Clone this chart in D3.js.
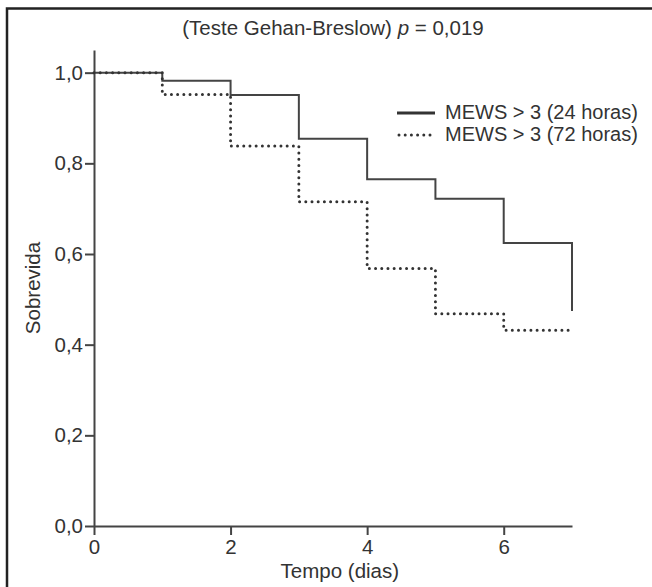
<!DOCTYPE html>
<html>
<head>
<meta charset="utf-8">
<script src="https://cdn.jsdelivr.net/npm/d3@7"></script>
<style>
  body { margin: 0; background: #fff; }
  text { font-family: "Liberation Sans", Arial, Helvetica, sans-serif; fill: #333; }
</style>
</head>
<body>
<div id="chart"></div>
<script>
// survival curves
var tempo = [0, 1, 2, 3, 4, 5, 6, 7];
var mews24 = [1.0, 0.982, 0.951, 0.854, 0.765, 0.722, 0.624, 0.474];
var mews72 = [1.0, 0.952, 0.838, 0.715, 0.568, 0.468, 0.432, 0.432];
var seriesNames = ["MEWS > 3 (24 horas)", "MEWS > 3 (72 horas)"];
var yTicks = [0, 0.2, 0.4, 0.6, 0.8, 1.0];
var xTicks = [0, 2, 4, 6];

var W = 652, H = 587;
var margin = {top: 50, right: 80, bottom: 61, left: 94},
    width = 572 - margin.left,
    height = 526 - margin.top;

var svg = d3.select("#chart")
  .append("svg")
    .attr("width", W)
    .attr("height", H);

// frame (only top and left edges fall inside the picture)
svg.append("rect")
  .attr("x", 7).attr("y", 8.5)
  .attr("width", 800).attr("height", 800)
  .attr("fill", "none")
  .attr("stroke", "#222")
  .attr("stroke-width", 2.5);

var g = svg.append("g")
  .attr("transform", "translate(" + margin.left + "," + margin.top + ")");

var x = d3.scaleLinear().domain([0, 7]).range([0, width]);
var y = d3.scaleLinear().domain([0, 1.05]).range([height, 0]);

var comma = d3.formatLocale({decimal: ",", thousands: ".", grouping: [3], currency: ["", ""]}).format(".1f");

// axes
var yAxis = g.append("g")
  .call(d3.axisLeft(y).tickValues(yTicks).tickFormat(comma).tickSize(9).tickSizeOuter(0).tickPadding(2));
var xAxis = g.append("g")
  .attr("transform", "translate(0," + height + ")")
  .call(d3.axisBottom(x).tickValues(xTicks).tickFormat(d3.format("d")).tickSize(9).tickSizeOuter(0).tickPadding(4));

[xAxis, yAxis].forEach(function(a) {
  a.selectAll("path, line").attr("stroke", "#444").attr("stroke-width", 2);
  a.selectAll("text").style("font-size", "20.5px").attr("fill", "#333");
});

// curves
var line = d3.line()
  .curve(d3.curveStepAfter)
  .x(function(d) { return x(d[0]); })
  .y(function(d) { return y(d[1]); });

g.append("path")
  .datum(d3.zip(tempo, mews24))
  .attr("d", line)
  .attr("fill", "none")
  .attr("stroke", "#444")
  .attr("stroke-width", 2);

g.append("path")
  .datum(d3.zip(tempo, mews72))
  .attr("d", line)
  .attr("fill", "none")
  .attr("stroke", "#333")
  .attr("stroke-width", 3)
  .attr("stroke-linecap", "round")
  .attr("stroke-dasharray", "0 6.2");

// title
var title = svg.append("text")
  .attr("x", margin.left + width / 2)
  .attr("y", 35)
  .attr("text-anchor", "middle")
  .style("font-size", "20.5px");
title.append("tspan").text("(Teste Gehan-Breslow) ");
title.append("tspan").style("font-style", "italic").text("p");
title.append("tspan").text(" = 0,019");

// axis titles
svg.append("text")
  .attr("x", margin.left + x(3.6))
  .attr("y", 578)
  .attr("text-anchor", "middle")
  .style("font-size", "20.5px")
  .text("Tempo (dias)");

svg.append("text")
  .attr("transform", "translate(40,288) rotate(-90)")
  .attr("text-anchor", "middle")
  .style("font-size", "20.5px")
  .text("Sobrevida");

// legend
var legend = svg.append("g").attr("transform", "translate(397,113)");
legend.append("line")
  .attr("x1", 0).attr("x2", 38).attr("y1", 0).attr("y2", 0)
  .attr("stroke", "#333").attr("stroke-width", 3.2);
legend.append("line")
  .attr("x1", 2).attr("x2", 38).attr("y1", 22).attr("y2", 22)
  .attr("stroke", "#333").attr("stroke-width", 3)
  .attr("stroke-linecap", "round").attr("stroke-dasharray", "0 6.2");
legend.selectAll("text.leg")
  .data(seriesNames)
  .enter().append("text")
    .attr("class", "leg")
    .attr("x", 48)
    .attr("y", function(d, i) { return 6 + i * 22; })
    .style("font-size", "20px")
    .text(function(d) { return d; });
</script>
</body>
</html>
